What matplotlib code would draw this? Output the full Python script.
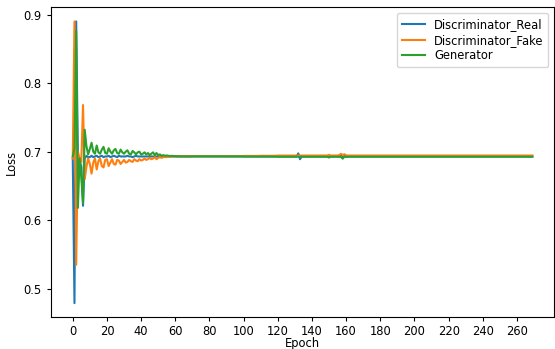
import numpy as np
import matplotlib
matplotlib.use("Agg")
import matplotlib.pyplot as plt
from matplotlib.ticker import MultipleLocator

plt.rcParams["font.size"] = 8.3

# losses per epoch (epochs 0..269)
d_real = [
    0.690, 0.479, 0.890, 0.693, 0.687, 0.678, 0.621, 0.690, 0.694, 0.692,
    0.692, 0.694, 0.692, 0.693, 0.694, 0.692, 0.693, 0.694, 0.692, 0.693,
    0.693, 0.694, 0.692, 0.693, 0.694, 0.693, 0.692, 0.694, 0.693, 0.693,
    0.693, 0.693, 0.694, 0.693, 0.693, 0.692, 0.693, 0.694, 0.693, 0.693,
    0.693, 0.693, 0.693, 0.693, 0.693, 0.693, 0.693, 0.693, 0.693, 0.693,
    0.693, 0.693, 0.693, 0.693, 0.693, 0.693, 0.693, 0.693, 0.693, 0.693,
    0.693, 0.693, 0.693, 0.693, 0.693, 0.693, 0.693, 0.693, 0.693, 0.693,
    0.693, 0.693, 0.693, 0.693, 0.693, 0.693, 0.693, 0.693, 0.693, 0.693,
    0.693, 0.693, 0.693, 0.693, 0.693, 0.693, 0.693, 0.693, 0.693, 0.693,
    0.693, 0.693, 0.693, 0.693, 0.693, 0.693, 0.693, 0.693, 0.693, 0.693,
    0.693, 0.693, 0.693, 0.693, 0.693, 0.693, 0.693, 0.693, 0.693, 0.693,
    0.693, 0.693, 0.693, 0.693, 0.693, 0.693, 0.693, 0.693, 0.693, 0.693,
    0.693, 0.693, 0.693, 0.693, 0.693, 0.693, 0.693, 0.693, 0.693, 0.693,
    0.693, 0.693, 0.6975, 0.6890, 0.693, 0.693, 0.693, 0.693, 0.693, 0.693,
    0.693, 0.693, 0.693, 0.693, 0.693, 0.693, 0.693, 0.693, 0.693, 0.693,
    0.693, 0.693, 0.693, 0.693, 0.693, 0.693, 0.693, 0.6955, 0.6905, 0.693,
    0.693, 0.693, 0.693, 0.693, 0.693, 0.693, 0.693, 0.693, 0.693, 0.693,
    0.693, 0.693, 0.693, 0.693, 0.693, 0.693, 0.693, 0.693, 0.693, 0.693,
    0.693, 0.693, 0.693, 0.693, 0.693, 0.693, 0.693, 0.693, 0.693, 0.693,
    0.693, 0.693, 0.693, 0.693, 0.693, 0.693, 0.693, 0.693, 0.693, 0.693,
    0.693, 0.693, 0.693, 0.693, 0.693, 0.693, 0.693, 0.693, 0.693, 0.693,
    0.693, 0.693, 0.693, 0.693, 0.693, 0.693, 0.693, 0.693, 0.693, 0.693,
    0.693, 0.693, 0.693, 0.693, 0.693, 0.693, 0.693, 0.693, 0.693, 0.693,
    0.693, 0.693, 0.693, 0.693, 0.693, 0.693, 0.693, 0.693, 0.693, 0.693,
    0.693, 0.693, 0.693, 0.693, 0.693, 0.693, 0.693, 0.693, 0.693, 0.693,
    0.693, 0.693, 0.693, 0.693, 0.693, 0.693, 0.693, 0.693, 0.693, 0.693,
    0.693, 0.693, 0.693, 0.693, 0.693, 0.693, 0.693, 0.693, 0.693, 0.693,
]

d_fake = [
    0.690, 0.890, 0.535, 0.700, 0.690, 0.685, 0.768, 0.660, 0.678, 0.690,
    0.682, 0.668, 0.684, 0.690, 0.674, 0.686, 0.690, 0.679, 0.677, 0.688,
    0.689, 0.679, 0.684, 0.689, 0.682, 0.681, 0.688, 0.687, 0.682, 0.685,
    0.688, 0.684, 0.685, 0.688, 0.686, 0.685, 0.689, 0.687, 0.686, 0.689,
    0.687, 0.688, 0.690, 0.688, 0.689, 0.691, 0.689, 0.690, 0.692, 0.689,
    0.691, 0.692, 0.691, 0.692, 0.6925, 0.692, 0.693, 0.6925, 0.693, 0.693,
    0.6932, 0.6930, 0.6934, 0.6930, 0.6934, 0.6932, 0.6934, 0.6932, 0.6934, 0.6932,
    0.6934, 0.6934, 0.6934, 0.6934, 0.6934, 0.6934, 0.6934, 0.6934, 0.6934, 0.6934,
    0.6934, 0.6934, 0.6934, 0.6934, 0.6934, 0.6934, 0.6934, 0.6934, 0.6934, 0.6934,
    0.6935, 0.6935, 0.6935, 0.6935, 0.6935, 0.6935, 0.6935, 0.6935, 0.6935, 0.6935,
    0.6938, 0.6938, 0.6938, 0.6938, 0.6938, 0.6938, 0.6938, 0.6938, 0.6938, 0.6938,
    0.6940, 0.6940, 0.6940, 0.6940, 0.6940, 0.6940, 0.6940, 0.6940, 0.6940, 0.6940,
    0.6943, 0.6943, 0.6943, 0.6943, 0.6943, 0.6943, 0.6943, 0.6943, 0.6943, 0.6943,
    0.6944, 0.6944, 0.6944, 0.6944, 0.6944, 0.6944, 0.6944, 0.6944, 0.6944, 0.6944,
    0.6944, 0.6944, 0.6944, 0.6944, 0.6944, 0.6944, 0.6944, 0.6944, 0.6944, 0.6944,
    0.6954, 0.6944, 0.6944, 0.6944, 0.6944, 0.6944, 0.6950, 0.6968, 0.6952, 0.6962,
    0.6946, 0.6944, 0.6944, 0.6944, 0.6944, 0.6944, 0.6944, 0.6944, 0.6944, 0.6944,
    0.6944, 0.6944, 0.6944, 0.6944, 0.6944, 0.6944, 0.6944, 0.6944, 0.6944, 0.6944,
    0.6944, 0.6944, 0.6944, 0.6944, 0.6944, 0.6944, 0.6944, 0.6944, 0.6944, 0.6944,
    0.6944, 0.6944, 0.6944, 0.6944, 0.6944, 0.6944, 0.6944, 0.6944, 0.6944, 0.6944,
    0.6944, 0.6944, 0.6944, 0.6944, 0.6944, 0.6944, 0.6944, 0.6944, 0.6944, 0.6944,
    0.6944, 0.6944, 0.6944, 0.6944, 0.6944, 0.6944, 0.6944, 0.6944, 0.6944, 0.6944,
    0.6944, 0.6944, 0.6944, 0.6944, 0.6944, 0.6944, 0.6944, 0.6944, 0.6944, 0.6944,
    0.6944, 0.6944, 0.6944, 0.6944, 0.6944, 0.6944, 0.6944, 0.6944, 0.6944, 0.6944,
    0.6944, 0.6944, 0.6944, 0.6944, 0.6944, 0.6944, 0.6944, 0.6944, 0.6944, 0.6944,
    0.6944, 0.6944, 0.6944, 0.6944, 0.6944, 0.6944, 0.6944, 0.6944, 0.6944, 0.6944,
    0.6944, 0.6944, 0.6944, 0.6944, 0.6944, 0.6944, 0.6944, 0.6944, 0.6944, 0.6944,
]

gen = [
    0.693, 0.705, 0.876, 0.618, 0.690, 0.662, 0.625, 0.732, 0.708, 0.696,
    0.704, 0.713, 0.700, 0.697, 0.709, 0.699, 0.697, 0.703, 0.707, 0.698,
    0.697, 0.705, 0.700, 0.697, 0.702, 0.704, 0.698, 0.697, 0.703, 0.699,
    0.697, 0.700, 0.702, 0.697, 0.696, 0.701, 0.699, 0.696, 0.699, 0.700,
    0.696, 0.697, 0.699, 0.696, 0.698, 0.695, 0.697, 0.699, 0.695, 0.698,
    0.695, 0.696, 0.694, 0.695, 0.694, 0.6945, 0.694, 0.6935, 0.694, 0.6935,
    0.6935, 0.6932, 0.6935, 0.6930, 0.6932, 0.6930, 0.6932, 0.6930, 0.6930, 0.6930,
    0.6932, 0.6932, 0.6932, 0.6932, 0.6932, 0.6932, 0.6932, 0.6932, 0.6932, 0.6932,
    0.6932, 0.6932, 0.6932, 0.6932, 0.6932, 0.6932, 0.6932, 0.6932, 0.6932, 0.6932,
    0.6931, 0.6931, 0.6931, 0.6931, 0.6931, 0.6931, 0.6931, 0.6931, 0.6931, 0.6931,
    0.6929, 0.6929, 0.6929, 0.6929, 0.6929, 0.6929, 0.6929, 0.6929, 0.6929, 0.6929,
    0.6928, 0.6928, 0.6928, 0.6928, 0.6928, 0.6928, 0.6928, 0.6928, 0.6928, 0.6928,
    0.6926, 0.6926, 0.6926, 0.6926, 0.6926, 0.6926, 0.6926, 0.6926, 0.6926, 0.6926,
    0.6926, 0.6926, 0.6926, 0.6926, 0.6926, 0.6926, 0.6926, 0.6926, 0.6926, 0.6926,
    0.6926, 0.6926, 0.6926, 0.6926, 0.6926, 0.6926, 0.6926, 0.6926, 0.6926, 0.6926,
    0.6914, 0.6926, 0.6926, 0.6926, 0.6926, 0.6926, 0.6926, 0.6922, 0.6898, 0.6932,
    0.6924, 0.6926, 0.6926, 0.6926, 0.6926, 0.6926, 0.6926, 0.6926, 0.6926, 0.6926,
    0.6926, 0.6926, 0.6926, 0.6926, 0.6926, 0.6926, 0.6926, 0.6926, 0.6926, 0.6926,
    0.6926, 0.6926, 0.6926, 0.6926, 0.6926, 0.6926, 0.6926, 0.6926, 0.6926, 0.6926,
    0.6926, 0.6926, 0.6926, 0.6926, 0.6926, 0.6926, 0.6926, 0.6926, 0.6926, 0.6926,
    0.6926, 0.6926, 0.6926, 0.6926, 0.6926, 0.6926, 0.6926, 0.6926, 0.6926, 0.6926,
    0.6926, 0.6926, 0.6926, 0.6926, 0.6926, 0.6926, 0.6926, 0.6926, 0.6926, 0.6926,
    0.6926, 0.6926, 0.6926, 0.6926, 0.6926, 0.6926, 0.6926, 0.6926, 0.6926, 0.6926,
    0.6926, 0.6926, 0.6926, 0.6926, 0.6926, 0.6926, 0.6926, 0.6926, 0.6926, 0.6926,
    0.6926, 0.6926, 0.6926, 0.6926, 0.6926, 0.6926, 0.6926, 0.6926, 0.6926, 0.6926,
    0.6926, 0.6926, 0.6926, 0.6926, 0.6926, 0.6926, 0.6926, 0.6926, 0.6926, 0.6926,
    0.6926, 0.6926, 0.6926, 0.6926, 0.6926, 0.6926, 0.6926, 0.6926, 0.6926, 0.6926,
]

epochs = np.arange(len(gen))
xtick_vals = np.arange(0, 261, 20)

fig = plt.figure(figsize=(5.55, 3.49), dpi=100)
ax = fig.add_subplot(111)
fig.subplots_adjust(left=0.0914, right=0.998, bottom=0.091, top=0.979)

ax.plot(epochs, d_real, label="Discriminator_Real", lw=1.5)
ax.plot(epochs, d_fake, label="Discriminator_Fake", lw=1.5)
ax.plot(epochs, gen, label="Generator", lw=1.5)

ax.set_xlim(-12.9, 281.6)
ax.set_xticks(xtick_vals)
ax.yaxis.set_major_locator(MultipleLocator(0.1))
ax.tick_params(length=3)
ax.tick_params(axis="x", pad=2.5)
ax.set_xlabel("Epoch", labelpad=-0.5)
ax.set_ylabel("Loss")
ax.legend(loc="upper right", labelspacing=0.25)

fig.savefig("out.png", dpi=100)
